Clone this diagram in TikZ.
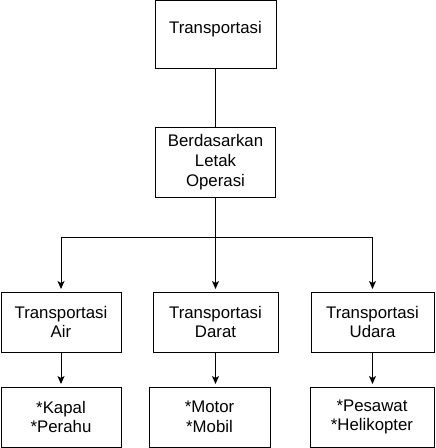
\documentclass[tikz,border=0pt]{standalone}
\usepackage{fontspec}
\setmainfont{Liberation Sans}
\usetikzlibrary{positioning,arrows.meta}

\begin{document}
\begin{tikzpicture}[x=1pt, y=-1pt,
  box/.style={draw, line width=1pt, inner sep=0pt, outer sep=0pt, align=center,
    minimum height=60pt, font=\fontsize{16.8pt}{19.8pt}\selectfont},
  link/.style={line width=1pt, -{Stealth[length=8pt,width=7pt,inset=2pt]}, shorten >=3pt}]
\useasboundingbox (0,0) rectangle (436,448);
\node[box, minimum width=121pt, minimum height=68pt, text depth=13.8pt] (trans) at (215.5,34) {Transportasi};
\node[box, minimum width=120pt, minimum height=70pt, below=59pt of trans] (dasar) {Berdasarkan\\Letak\\Operasi};
\node[box, minimum width=120pt] (air) at (61,322) {Transportasi\\Air};
\node[box, minimum width=125pt] (darat) at (215.5,322) {Transportasi\\Darat};
\node[box, minimum width=123pt] (udara) at (372.5,322) {Transportasi\\Udara};
\node[box, minimum width=120pt, below=35pt of air] (kapal) {*Kapal\\*Perahu};
\node[box, minimum width=121pt, below=35pt of darat, xshift=-6pt] (motor) {*Motor\\*Mobil};
\node[box, minimum width=124pt, below=35pt of udara, xshift=-0.5pt] (pesawat) {*Pesawat\\*Helikopter};
\coordinate[below=40pt of dasar.south] (split);
\draw[line width=1pt] (trans) -- (dasar);
\draw[line width=1pt] (dasar) -- (split);
\draw[link] (split) -| (air.north);
\draw[link] (split) -- (split |- darat.north);
\draw[link] (split) -| (udara.north);
\draw[link] (air.south) -- (kapal.north);
\draw[link] (darat.south) -- (darat.south |- motor.north);
\draw[link] (udara.south) -- (udara.south |- pesawat.north);
\end{tikzpicture}
\end{document}
